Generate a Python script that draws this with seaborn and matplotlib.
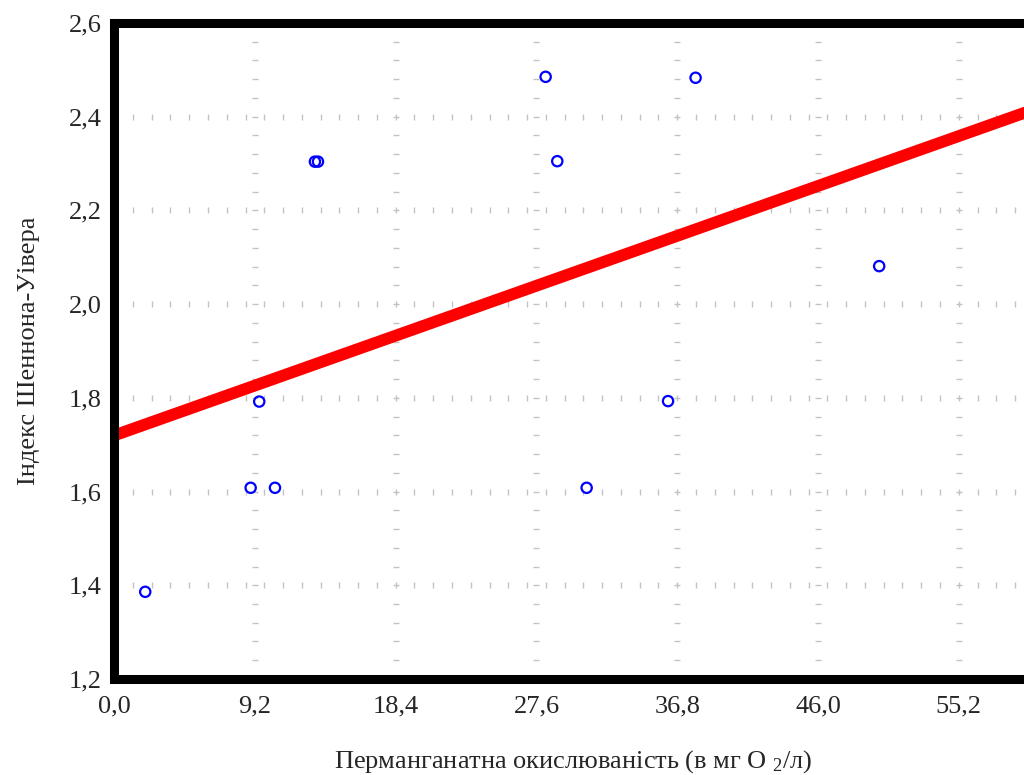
import numpy as np
import matplotlib
matplotlib.use("Agg")
from matplotlib import pyplot as plt
import seaborn as sns

# points
perm_ox = [2.03, 8.92, 9.48, 10.51, 13.12, 13.32, 28.2, 28.96, 30.88, 36.2, 38.0, 50.0]
shannon = [1.386, 1.608, 1.792, 1.608, 2.304, 2.304, 2.485, 2.305, 1.608, 1.793, 2.483, 2.081]

x_ticks = [0.0, 9.2, 18.4, 27.6, 36.8, 46.0, 55.2]
y_ticks = [1.2, 1.4, 1.6, 1.8, 2.0, 2.2, 2.4, 2.6]
x_ticklabels = ['0,0', '9,2', '18,4', '27,6', '36,8', '46,0', '55,2']
y_ticklabels = ['1,2', '1,4', '1,6', '1,8', '2,0', '2,2', '2,4', '2,6']

sns.set_style("white")
plt.rcParams['font.family'] = ['Liberation Serif', 'DejaVu Serif']
plt.rcParams['mathtext.fontset'] = 'custom'
plt.rcParams['mathtext.rm'] = 'Liberation Serif'
plt.rcParams['mathtext.it'] = 'Liberation Serif:italic'

fig = plt.figure(figsize=(10.24, 7.75), dpi=100)
ax = fig.add_axes([0.1115, 0.1239, 0.8965, 0.8465])
ax.set_xlim(0, 60)
ax.set_ylim(1.2, 2.6)

# grid made of little dashes, like the original program draws it
gcol = '#c2c2c2'
ydash = np.arange(1.2, 2.6001, 0.04)
for xv in x_ticks[1:]:
    ax.plot(np.full(len(ydash), xv), ydash, ls='none', marker='_',
            ms=4, mew=1.0, color=gcol, zorder=1)
xdash = np.arange(9.2 / 7.5, 60, 9.2 / 7.5)
for yv in y_ticks[1:-1]:
    ax.plot(xdash, np.full(len(xdash), yv), ls='none', marker='|',
            ms=4, mew=1.0, color=gcol, zorder=1)

sns.regplot(x=perm_ox, y=shannon, ax=ax, scatter=False, ci=None,
            truncate=False, color='red', line_kws={'lw': 8.5, 'zorder': 2})
sns.scatterplot(x=perm_ox, y=shannon, ax=ax, marker='o', s=55,
                facecolors='none', edgecolor='blue', linewidth=1.6, zorder=3)
ax.set_xlim(0, 60)
ax.set_ylim(1.2, 2.6)

ax.set_xticks(x_ticks)
ax.set_xticklabels(x_ticklabels)
ax.set_yticks(y_ticks)
ax.set_yticklabels(y_ticklabels)
ax.tick_params(axis='both', length=0, labelsize=19)
ax.tick_params(axis='x', pad=12)
ax.tick_params(axis='y', pad=9)

for sp in ax.spines.values():
    sp.set_linewidth(6.5)
    sp.set_color('black')

ax.set_xlabel('Перманганатна окислюваність (в мг O $_2$/л)', fontsize=19, labelpad=22)
ax.set_ylabel('Індекс Шеннона-Уівера', fontsize=19, labelpad=21)

plt.savefig('out.png', dpi=100)
